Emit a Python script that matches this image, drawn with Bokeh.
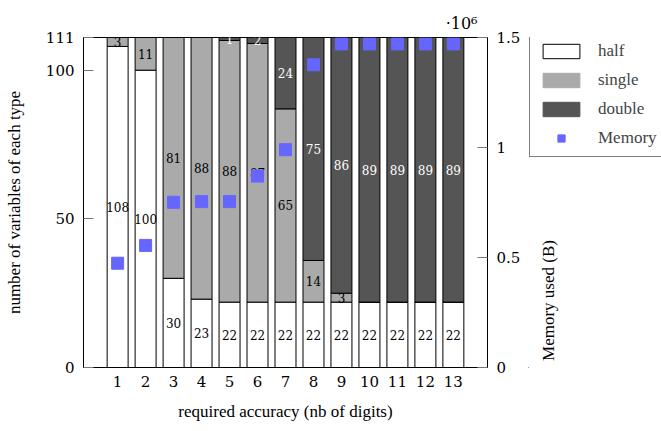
import math
from bokeh.plotting import figure
from bokeh.layouts import row
from bokeh.models import (ColumnDataSource, Range1d, LinearAxis, FixedTicker,
                          Legend, LegendItem, Label)
from bokeh.core.properties import value
from bokeh.embed import file_html
from bokeh.resources import INLINE

digits = [1, 2, 3, 4, 5, 6, 7, 8, 9, 10, 11, 12, 13]
half = [108, 100, 30, 23, 22, 22, 22, 22, 22, 22, 22, 22, 22]
single = [3, 11, 81, 88, 88, 87, 65, 14, 3, 0, 0, 0, 0]
double = [0, 0, 0, 0, 1, 2, 24, 75, 86, 89, 89, 89, 89]
memory = [0.474e6, 0.555e6, 0.751e6, 0.754e6, 0.754e6, 0.87e6, 0.99e6,
          1.376e6, 1.471e6, 1.471e6, 1.471e6, 1.471e6, 1.471e6]
left_ticks = [0, 50, 100, 111]
mem_ticks = [0, 0.5e6, 1e6, 1.5e6]
mem_tick_labels = ["0", "0.5", "1", "1.5"]

FONT = "Liberation Serif"
NUMFONT = "DejaVu Serif"
C_HALF = "#ffffff"
C_SINGLE = "#aaaaaa"
C_DOUBLE = "#555555"
C_MEM = "#6666ff"

BT, BB = 37, 64  # top / bottom borders shared by both panels

h_bot = [0] * len(digits)
h_top = list(half)
s_bot = h_top
s_top = [a + b for a, b in zip(half, single)]
d_bot = s_top
d_top = [a + b for a, b in zip(s_top, double)]

p = figure(width=528, height=431, output_backend="svg", toolbar_location=None,
           x_range=Range1d(-0.22, 14.22), y_range=Range1d(0, 111),
           min_border_left=83, min_border_right=41, min_border_top=BT,
           min_border_bottom=BB)
p.extra_y_ranges = {"mem": Range1d(0, 1.5e6)}
p.xgrid.visible = False
p.ygrid.visible = False
p.outline_line_color = "black"
p.outline_line_alpha = 1.0
p.background_fill_color = "white"
p.border_fill_color = "white"

p.title.text = "·10⁶"
p.title.align = "right"
p.title.offset = 10
p.title.standoff = 10
p.title.text_font = NUMFONT
p.title.text_font_size = "16px"
p.title.text_font_style = "normal"
p.title.text_color = "black"

W = 0.75
r_half = p.vbar(x=digits, bottom=h_bot, top=h_top, width=W, fill_color=C_HALF,
                line_color="black", line_width=1)
r_single = p.vbar(x=digits, bottom=s_bot, top=s_top, width=W, fill_color=C_SINGLE,
                  line_color="black", line_width=1)
r_double = p.vbar(x=digits, bottom=d_bot, top=d_top, width=W, fill_color=C_DOUBLE,
                  line_color="black", line_width=1)

# segment labels
lx, ly, lt, lc = [], [], [], []
for i, d in enumerate(digits):
    for b, t, v, col in ((h_bot[i], h_top[i], half[i], "black"),
                         (s_bot[i], s_top[i], single[i], "black"),
                         (d_bot[i], d_top[i], double[i], "white")):
        if v > 0:
            lx.append(d)
            ly.append((b + t) / 2)
            lt.append(str(v))
            lc.append(col)
lsrc = ColumnDataSource(dict(x=lx, y=ly, t=lt, c=lc))
p.text(x="x", y="y", text="t", text_color="c", source=lsrc, text_align="center",
       text_baseline="middle", text_font=value(NUMFONT), text_font_size="12px")

r_mem = p.scatter(x=digits, y=memory, marker="square", size=12, fill_color=C_MEM,
                  line_color=C_MEM, y_range_name="mem")

# axes
p.yaxis.ticker = FixedTicker(ticks=left_ticks)
p.yaxis.axis_label = "number of variables of each type"
p.xaxis.ticker = FixedTicker(ticks=digits)
p.xaxis.axis_label = "required accuracy (nb of digits)"

right = LinearAxis(y_range_name="mem", ticker=FixedTicker(ticks=mem_ticks))
right.major_label_overrides = {t: s for t, s in zip(mem_ticks, mem_tick_labels)}
p.add_layout(right, "right")

for ax in (p.xaxis[0], p.yaxis[0], right):
    ax.axis_line_color = "black"
    ax.major_tick_line_color = "#777777"
    ax.major_tick_in = 10
    ax.major_tick_out = 0
    ax.minor_tick_line_color = None
    ax.major_label_text_font = NUMFONT
    ax.major_label_text_font_size = "15px"
    ax.major_label_text_color = "black"
    ax.axis_label_text_font = FONT
    ax.axis_label_text_font_size = "17px"
    ax.axis_label_text_font_style = "normal"
    ax.axis_label_text_color = "black"
p.xaxis.major_tick_in = 0
p.xaxis.major_label_standoff = 8
p.xaxis.axis_label_standoff = 12
p.yaxis.major_label_standoff = 9
p.yaxis.axis_label_standoff = 19
right.major_label_standoff = 9

# side panel: legend and right-axis title
# y data = pixels from the bottom of the canvas
p2 = figure(width=133, height=431, output_backend="svg", toolbar_location=None,
            x_range=Range1d(0, 133), y_range=Range1d(BB, 431 - BT),
            x_axis_location=None, y_axis_location=None,
            min_border_left=0, min_border_right=0,
            min_border_top=BT, min_border_bottom=BB)
p2.xgrid.visible = False
p2.ygrid.visible = False
p2.outline_line_color = None
p2.background_fill_color = "white"
p2.border_fill_color = "white"

# legend proxies, placed far outside the visible range
e_half = p2.vbar(x=[-1000], bottom=[0], top=[1], width=1, fill_color=C_HALF,
                 line_color="black", line_width=1)
e_single = p2.vbar(x=[-1000], bottom=[0], top=[1], width=1, fill_color=C_SINGLE,
                   line_color=C_SINGLE, line_width=1)
e_double = p2.vbar(x=[-1000], bottom=[0], top=[1], width=1, fill_color=C_DOUBLE,
                   line_color=C_DOUBLE, line_width=1)
e_mem = p2.scatter(x=[-1000], y=[0], marker="square", size=12, fill_color=C_MEM,
                   line_color=C_MEM)

legend = Legend(items=[
    LegendItem(label="half", renderers=[e_half]),
    LegendItem(label="single", renderers=[e_single]),
    LegendItem(label="double", renderers=[e_double]),
    LegendItem(label="Memory", renderers=[e_mem]),
], location=(1, 431 - 157 - BB))
legend.glyph_width = 46
legend.glyph_height = 18
legend.spacing = 9
legend.padding = 8
legend.margin = 0
legend.label_text_font = FONT
legend.label_text_font_size = "17px"
legend.label_standoff = 14
legend.border_line_color = "black"
legend.border_line_width = 1
legend.background_fill_alpha = 1
p2.add_layout(legend, "center")

p2.add_layout(Label(x=20, y=431 - 300, text="Memory used (B)", angle=math.pi / 2,
                    text_font=FONT, text_font_size="17px", text_align="center",
                    text_baseline="middle", text_color="black"))

layout = row(p, p2)
open("out.html", "w").write(file_html(layout, INLINE))
